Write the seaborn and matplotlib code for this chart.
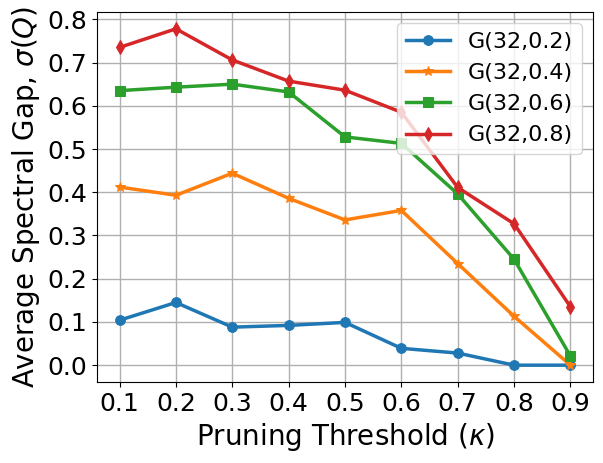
import numpy as np
import pandas as pd
import matplotlib
matplotlib.use('Agg')
import matplotlib.pyplot as plt
import seaborn as sns

# Pruning thresholds
kappa = [0.1, 0.2, 0.3, 0.4, 0.5, 0.6, 0.7, 0.8, 0.9]

# Average spectral gap per graph family
gap_02 = [0.104, 0.145, 0.088, 0.092, 0.099, 0.039, 0.028, 0.0, 0.0]
gap_04 = [0.412, 0.393, 0.444, 0.386, 0.336, 0.358, 0.235, 0.113, 0.0]
gap_06 = [0.635, 0.643, 0.650, 0.632, 0.528, 0.513, 0.396, 0.245, 0.021]
gap_08 = [0.735, 0.778, 0.706, 0.657, 0.636, 0.585, 0.411, 0.327, 0.135]

labels = ['G(32,0.2)', 'G(32,0.4)', 'G(32,0.6)', 'G(32,0.8)']
series = [gap_02, gap_04, gap_06, gap_08]
markers = ['o', '*', 's', 'd']
colors = ['#1f77b4', '#ff7f0e', '#2ca02c', '#d62728']

fig = plt.figure(figsize=(6.03, 4.63), dpi=100)
ax = fig.add_axes([97 / 603, 1 - 382 / 463, 496 / 603, 370 / 463])

for lab, vals, mk, col in zip(labels, series, markers, colors):
    df = pd.DataFrame({'kappa': kappa, 'gap': vals})
    sns.lineplot(data=df, x='kappa', y='gap', ax=ax, label=lab, marker=mk,
                 color=col, linewidth=2.5, markersize=7,
                 markeredgecolor=col)

ax.set_xticks(kappa)
ax.set_xticklabels([f'{k:.1f}' for k in kappa])
ax.set_yticks(np.arange(0, 0.81, 0.1))
ax.set_yticklabels([f'{v:.1f}' for v in np.arange(0, 0.81, 0.1)])
ax.tick_params(labelsize=18)
ax.set_xlabel(r'Pruning Threshold ($\kappa$)', fontsize=20)
ax.set_ylabel(r'Average Spectral Gap, $\sigma(Q)$', fontsize=20)
ax.grid(True, color='#b0b0b0', linewidth=1)
ax.legend(loc='upper right', fontsize=16)

fig.savefig('out.png', dpi=100)
